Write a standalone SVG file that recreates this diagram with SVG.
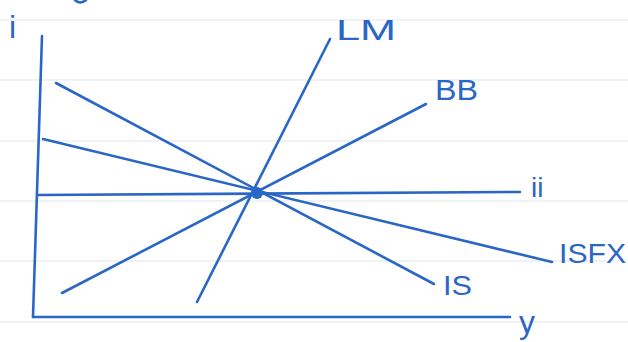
<svg xmlns="http://www.w3.org/2000/svg" width="628" height="342" viewBox="0 0 628 342">
<style>
.rule{stroke:#dfe8ee;stroke-width:1.2}
.ink{stroke:#2a66c6;stroke-width:2.6;stroke-linecap:round;fill:none}
.lbl{font-family:"Liberation Sans",Arial,sans-serif;font-size:28px;fill:#2a66c6}
</style>
<rect width="628" height="342" fill="#ffffff"/>
<g id="paper">
<line class="rule" x1="0" y1="20" x2="628" y2="20"/>
<line class="rule" x1="0" y1="80" x2="628" y2="80"/>
<line class="rule" x1="0" y1="141" x2="628" y2="141"/>
<line class="rule" x1="0" y1="201" x2="628" y2="201"/>
<line class="rule" x1="0" y1="261" x2="628" y2="261"/>
<line class="rule" x1="0" y1="322" x2="628" y2="322"/>
<path class="ink" d="M75 0 Q80 5 86 0"/>
</g>
<g id="axes">
<line class="ink" x1="42" y1="36" x2="33" y2="317"/>
<line class="ink" x1="33" y1="317" x2="510" y2="317"/>
<text class="lbl" x="9" y="38" style="font-size:32px">i</text>
<text class="lbl" x="519" y="333" style="font-size:32px">y</text>
</g>
<g id="connectors">
<line id="ii-line" class="ink" x1="38" y1="195" x2="520" y2="192"/>
<line id="LM-line" class="ink" x1="197" y1="302" x2="330" y2="39"/>
<line id="BB-line" class="ink" x1="62" y1="293" x2="426" y2="104"/>
<line id="IS-line" class="ink" x1="56" y1="83" x2="434" y2="284"/>
<line id="ISFX-line" class="ink" x1="43" y1="139" x2="552" y2="262"/>
</g>
<g id="equilibrium">
<circle cx="257" cy="193" r="6" fill="#2a66c6"/>
</g>
<g id="LM"><text class="lbl" x="336" y="40" style="font-size:30px" textLength="60" lengthAdjust="spacingAndGlyphs">LM</text></g>
<g id="BB"><text class="lbl" x="435" y="100" style="font-size:30px" textLength="43" lengthAdjust="spacingAndGlyphs">BB</text></g>
<g id="ii"><text class="lbl" x="531" y="197">ii</text></g>
<g id="ISFX"><text class="lbl" x="559" y="263" textLength="67" lengthAdjust="spacingAndGlyphs">ISFX</text></g>
<g id="IS"><text class="lbl" x="443" y="295" textLength="29" lengthAdjust="spacingAndGlyphs">IS</text></g>
</svg>
